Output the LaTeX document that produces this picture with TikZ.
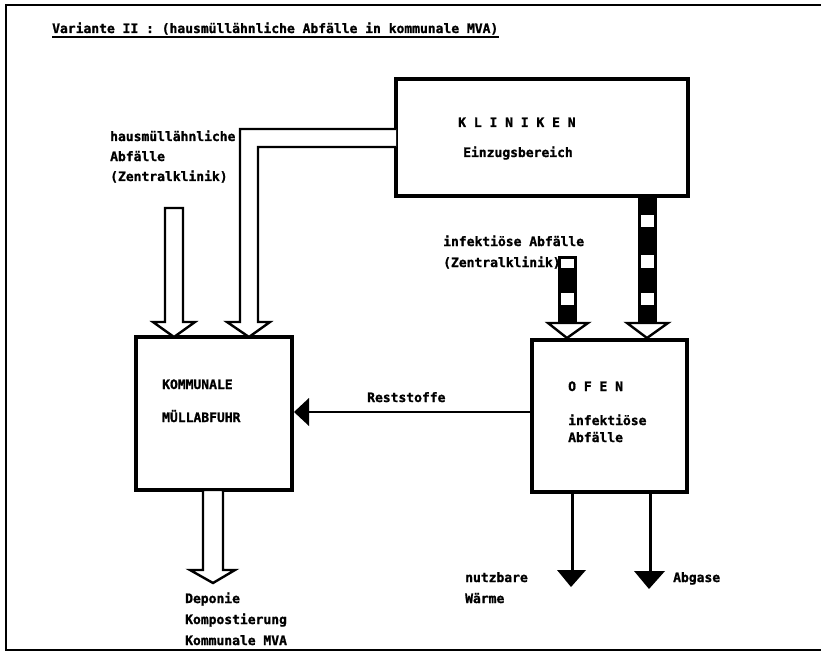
\documentclass[tikz,border=0pt]{standalone}
\usepackage{fontspec}
\setmonofont{DejaVu Sans Mono}[BoldFeatures={FakeBold=1.2}]
\usetikzlibrary{calc, positioning}

\tikzset{
    box/.style={draw, line width=4pt, outer sep=0pt, inner sep=0pt, anchor=north west},
    txt/.style={font=\ttfamily\bfseries\fontsize{13}{15}\selectfont, inner sep=0pt, anchor=base west},
    hollow/.style={draw, line width=2.4pt, fill=white, line join=miter},
    stripe/.style={fill=black},
    hole/.style={fill=white},
}

\begin{document}
\begin{tikzpicture}[x=1pt, y=-1pt]

    \useasboundingbox (0,0) rectangle (821,655);

    % =================================================================
    % 1. RAHMEN UND TITEL
    % =================================================================
    \draw[line width=2.5pt] (821,5) -- (6,5) -- (6,650) -- (821,650);
    \node[txt] (title) at (52,33) {Variante II : (hausmüllähnliche Abfälle in kommunale MVA)};
    \draw[line width=1.6pt] (title.base west) ++(0,4) -- ($(title.base east)+(0,4)$);

    % =================================================================
    % 2. KÄSTEN
    % =================================================================
    \node[box, minimum width=292, minimum height=117] (klin) at (396,79) {};
    \node[box, minimum width=156, minimum height=153] (komm) at (136,337) {};
    \node[box, minimum width=155, minimum height=152] (ofen) at (532,340) {};

    % Texte in den Kästen
    \node[txt] (klinA) at (458,127) {K L I N I K E N};
    \node[txt] (klinB) at (463,157) {Einzugsbereich};
    \node[txt] (kommA) at (162,389) {KOMMUNALE};
    \node[txt] (kommB) at (162,422) {MÜLLABFUHR};
    \node[txt] (ofenA) at (568,391) {O F E N};
    \node[txt] (ofenB) at (568,425) {infektiöse};
    \node[txt] (ofenC) at (568,442) {Abfälle};

    % =================================================================
    % 3. HOHLPFEILE (hausmüllähnliche Abfälle)
    % =================================================================
    \coordinate (kA) at ($(klin.north west)+(0,50)$);
    \coordinate (kB) at ($(klin.north west)+(0,68)$);
    \draw[hollow] (kA) -- (240,129) -- (240,322) -- (227,322)
        -- (249,337) -- (270,322) -- (258,322) -- (258,147) -- (kB);
    \draw[hollow] (174,337) -- (153,322) -- (165,322) -- (165,208)
        -- (183,208) -- (183,322) -- (195,322) -- cycle;

    \node[txt] (hausA) at (110,141) {hausmüllähnliche};
    \node[txt] (hausB) at (110,161) {Abfälle};
    \node[txt] (hausC) at (110,181) {(Zentralklinik)};

    % Ausgang Müllabfuhr
    \draw[hollow] (213,583) -- (190,570) -- (203,570) -- (203,490)
        -- (223,490) -- (223,570) -- (235,570) -- cycle;
    \node[txt] (depA) at (185,603) {Deponie};
    \node[txt] (depB) at (185,624) {Kompostierung};
    \node[txt] (depC) at (185,645) {Kommunale MVA};

    % =================================================================
    % 4. GESTREIFTE PFEILE (infektiöse Abfälle)
    % =================================================================
    \fill[stripe] (638,196) rectangle (657,323);
    \foreach \ya/\yb in {215/227, 255/268, 293/305}
        \fill[hole] (641,\ya) rectangle (654,\yb);
    \draw[hollow] (627,323) -- (668,323) -- (647,338) -- cycle;

    \fill[stripe] (558,256) rectangle (577,323);
    \foreach \ya/\yb in {259/268, 293/305}
        \fill[hole] (561,\ya) rectangle (574,\yb);
    \draw[hollow] (548,323) -- (588,323) -- (567,338) -- cycle;

    \node[txt] (infA) at (443,246) {infektiöse Abfälle};
    \node[txt] (infB) at (443,267) {(Zentralklinik)};

    % =================================================================
    % 5. RESTSTOFFE UND AUSGÄNGE OFEN
    % =================================================================
    \coordinate (rs) at ($(ofen.north west)+(0,72)$);
    \draw[line width=2pt] (rs) -- (306,412);
    \fill (294,412) -- (309,398) -- (309,426) -- cycle;
    \node[txt] (rest) at (367,402) {Reststoffe};

    \draw[line width=3pt] (572,492) -- (572,572);
    \fill (557,570) -- (586,570) -- (571,587) -- cycle;
    \draw[line width=3pt] (650,492) -- (650,572);
    \fill (634,571) -- (665,571) -- (649,589) -- cycle;

    \node[txt] (waerA) at (465,582) {nutzbare};
    \node[txt] (waerB) at (465,603) {Wärme};
    \node[txt] (abg) at (673,582) {Abgase};

\end{tikzpicture}
\end{document}
